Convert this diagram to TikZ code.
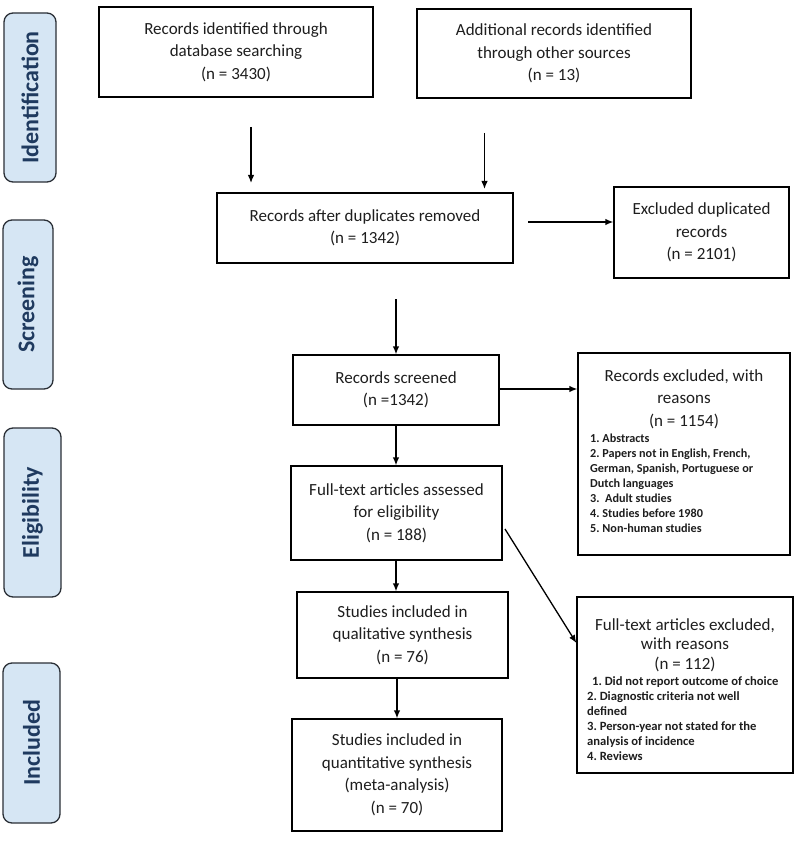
\documentclass[tikz,border=0pt]{standalone}
\usepackage{fontspec}
\setmainfont{Carlito}
\usetikzlibrary{arrows.meta}
\definecolor{labfill}{HTML}{D6E6F4}
\definecolor{labdraw}{HTML}{2A2F36}
\definecolor{labtext}{HTML}{1F3A5F}
\definecolor{txt}{HTML}{1E1E1E}
\tikzset{
  box/.style={draw=black, line width=1.3pt, align=center, inner sep=0pt, text=txt,
    font=\frenchspacing\fontsize{17}{22.5}\selectfont},
  txtblock/.style={inner sep=0pt, text=txt},
  listtxt/.style={txtblock, align=left, font=\frenchspacing\bfseries\fontsize{12.2}{15}\selectfont},
  phase/.style={draw=labdraw, fill=labfill, line width=1.3pt, rounded corners=9pt,
    rotate=90, inner sep=0pt, text=labtext, font=\fontsize{24}{27}\selectfont\bfseries},
  arr/.style={line width=1.3pt, -{Latex[length=8pt,width=6.5pt]}},
}
\begin{document}
\begin{tikzpicture}[x=1pt,y=-1pt]
\useasboundingbox (0,0) rectangle (800,845);
\fill[white] (0,0) rectangle (800,845);

% phase labels
\node[phase, minimum width=169pt, minimum height=52pt] (pid) at (30,97.5) {Identification};
\node[phase, minimum width=169pt, minimum height=50pt] (psc) at (28,304.5) {Screening};
\node[phase, minimum width=169pt, minimum height=57pt] (pel) at (32.5,512.5) {Eligibility};
\node[phase, minimum width=160pt, minimum height=57pt] (pin) at (31.5,743) {Included};

% boxes
\node[box, minimum width=274pt, minimum height=90pt] (b1) at (236,52)
  {Records identified through\\ database searching\\ (n = 3430)};
\node[box, minimum width=274pt, minimum height=89pt] (b2) at (554,53.5)
  {Additional records identified\\ through other sources\\ (n = 13)};
\node[box, minimum width=296pt, minimum height=70pt] (b3) at (365,228)
  {Records after duplicates removed\\ (n = 1342)};
\node[box, minimum width=175pt, minimum height=91pt] (dup) at (701.5,232.5)
  {Excluded duplicated\\ records\\ (n = 2101)};
\node[box, minimum width=206pt, minimum height=70pt] (scr) at (396,390)
  {Records screened\\ (n =1342)};
\node[box, minimum width=212pt, minimum height=202pt] (rex) at (684,454) {};
\node[box, draw=none] (rexh) at (684,399)
  {Records excluded, with\\ reasons\\ (n = 1154)};
\node[listtxt, anchor=west] (rexl) at (590,483)
  {1. Abstracts\\
   2. Papers not in English, French,\\
   German, Spanish, Portuguese or\\
   Dutch languages\\
   3.\ \ Adult studies\\
   4. Studies before 1980\\
   5. Non-human studies};
\node[box, minimum width=211pt, minimum height=94pt] (ft) at (396.5,513)
  {Full-text articles assessed\\ for eligibility\\ (n = 188)};
\node[box, minimum width=211pt, minimum height=86pt] (qual) at (402.5,635)
  {Studies included in\\ qualitative synthesis\\ (n = 76)};
\node[box, minimum width=210pt, minimum height=112pt] (quant) at (397,775)
  {Studies included in\\ quantitative synthesis\\ (meta-analysis)\\ (n = 70)};
\node[box, minimum width=216pt, minimum height=176pt] (fex) at (685,685) {};
\node[box, draw=none, font=\frenchspacing\fontsize{17}{19.5}\selectfont] (fexh) at (685,645)
  {Full-text articles excluded,\\ with reasons\\ (n = 112)};
\node[listtxt, anchor=west, font=\frenchspacing\bfseries\fontsize{12.6}{15}\selectfont] (fexl) at (587,719)
  {\hspace*{5pt}1. Did not report outcome of choice\\
   2. Diagnostic criteria not well\\
   defined\\
   3. Person-year not stated for the\\
   analysis of incidence\\
   4. Reviews};

% free arrow ends
\coordinate (a1s) at (251,127);
\coordinate (a1e) at (251,183);
\coordinate (a2s) at (484.5,133);
\coordinate (a2e) at (484.5,189);
\coordinate (a3s) at (528,222);
\coordinate (a4s) at (396,299);
\coordinate (a7s) at (505,529);

% connectors
\draw[arr] (a1s) -- (a1e);
\draw[arr] (a2s) -- (a2e);
\draw[arr] (a3s) -- (dup.west |- a3s);
\draw[arr] (a4s) -- (scr.north);
\draw[arr] (scr.east |- 0,389) -- (rex.west |- 0,389);
\draw[arr] (scr.south) -- (ft.north -| scr.south);
\draw[arr] (ft.south -| scr.south) -- (qual.north -| scr.south);
\draw[arr] (qual.south -| quant.north) -- (quant.north);
\draw[arr] (a7s) -- (fex.west |- 0,643);
\end{tikzpicture}
\end{document}
